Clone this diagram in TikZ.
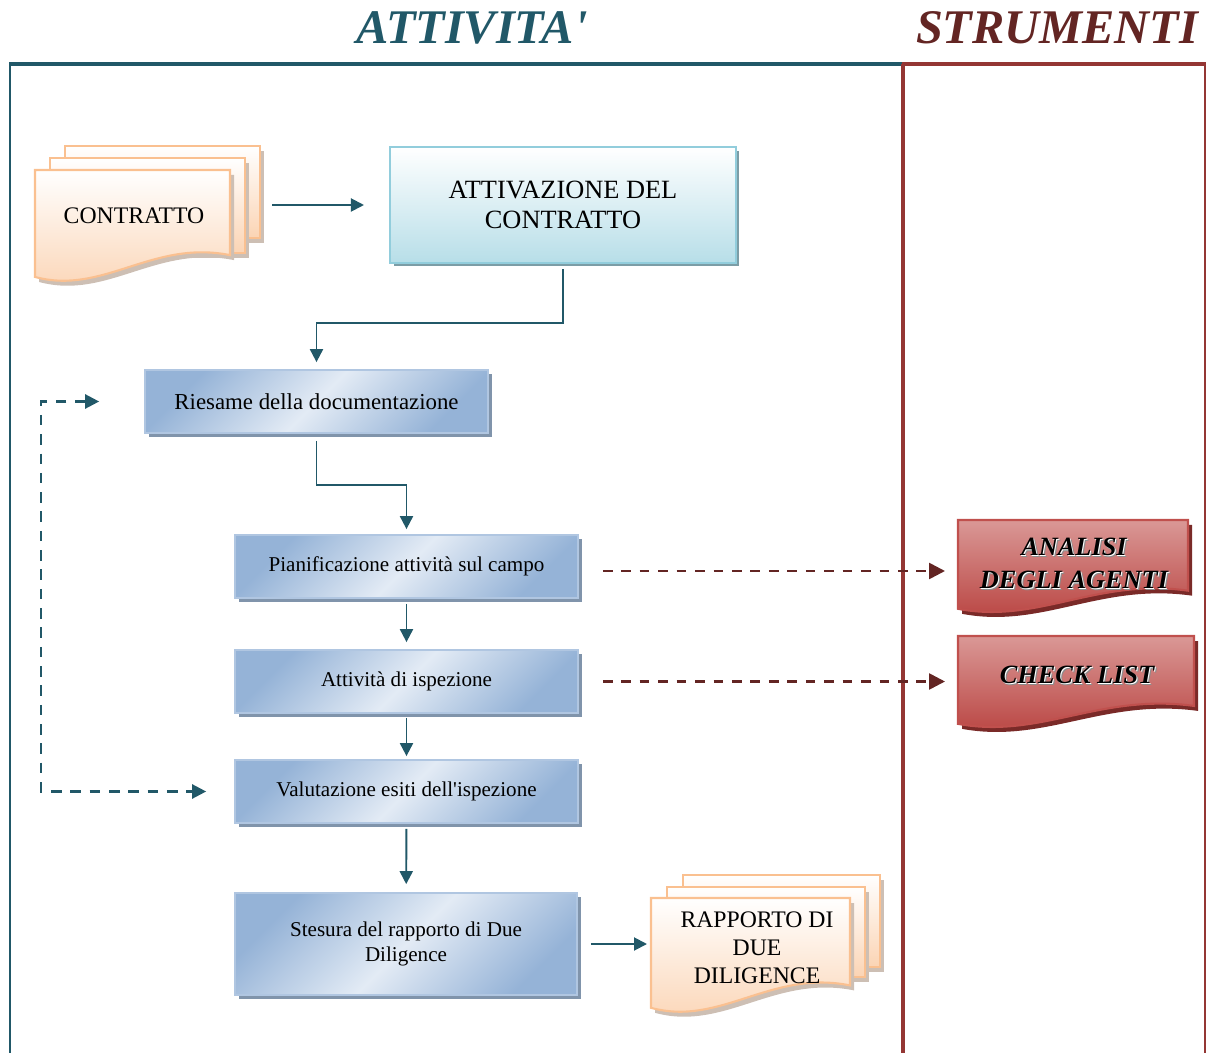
\documentclass[tikz,border=0pt]{standalone}
\usepackage{fontspec}
\setmainfont{Liberation Serif}
\usepackage{tikz}
\usetikzlibrary{arrows.meta,shadows}

\definecolor{attteal}{HTML}{215868}
\definecolor{strred}{HTML}{632523}
\definecolor{framered}{HTML}{943634}
\definecolor{bluedark}{HTML}{95B3D7}
\definecolor{bluelight}{HTML}{E3EBF5}
\definecolor{blueline}{HTML}{B0C6E1}
\definecolor{blueshadow}{HTML}{8094AB}
\definecolor{cyanlight}{HTML}{B7DEE8}
\definecolor{cyanline}{HTML}{92CDDC}
\definecolor{cyanshadow}{HTML}{7C9DA6}
\definecolor{peach}{HTML}{FBD4B4}
\definecolor{peachline}{HTML}{FAC090}
\definecolor{peachshadow}{HTML}{CDBFB4}
\definecolor{redtop}{HTML}{DA9896}
\definecolor{redbottom}{HTML}{B8413E}
\definecolor{redline}{HTML}{C0504D}
\definecolor{redshadow}{HTML}{7A2A28}

% page with wavy bottom: style, x, y, w, h
\newcommand{\wavepage}[5]{%
  \path[#1] (#2,#3) -- ({#2+#4},#3) -- ({#2+#4},{#3+0.76*#5})
    .. controls ({#2+0.6*#4},{#3+0.62*#5}) and ({#2+0.35*#4},{#3+1.12*#5})
    .. (#2,{#3+0.955*#5}) -- cycle;}

\tikzset{
  title/.style={font=\fontsize{27.5}{31}\selectfont\bfseries\itshape},
  actbox/.style={draw=blueline, line width=1pt, left color=bluedark, right color=bluedark,
    middle color=bluelight, shading angle=45, align=center,
    drop shadow={shadow xshift=0.08cm, shadow yshift=-0.08cm, fill=blueshadow, opacity=1},
    font=\fontsize{12}{14.7}\selectfont},
  startbox/.style={draw=cyanline, line width=1.2pt, top color=white, bottom color=cyanlight,
    align=center, font=\fontsize{15}{17.5}\selectfont,
    drop shadow={shadow xshift=0.07cm, shadow yshift=-0.07cm, fill=cyanshadow, opacity=1}},
  docpage/.style={draw=peachline, line width=1.2pt, top color=white, bottom color=peach},
  toolpage/.style={draw=redline, line width=1.2pt, top color=redtop, bottom color=redbottom},
  doctext/.style={align=center, font=\fontsize{13.5}{16}\selectfont},
  tooltext/.style={align=center, font=\fontsize{15}{18.7}\selectfont\bfseries\itshape},
  flow/.style={attteal, line width=1.1pt, -{Triangle[length=0.26cm, width=0.26cm]}},
  loopflow/.style={attteal, line width=1.4pt, dash pattern=on 6pt off 5pt,
    {Triangle[length=0.28cm, width=0.28cm]}-{Triangle[length=0.28cm, width=0.28cm]}},
  toolflow/.style={strred, line width=1.5pt, dash pattern=on 5.5pt off 5pt,
    -{Triangle[length=0.32cm, width=0.32cm]}}
}

\begin{document}
\begin{tikzpicture}[x=0.02cm, y=-0.02cm]
\useasboundingbox (0,0) rectangle (1206,1053);

%column titles and frame
\node[title, text=attteal, anchor=base] (attivita) at (472,44) {ATTIVITA\textquotesingle};
\node[title, text=strred, anchor=base] (strumenti) at (1057,44) {STRUMENTI};
\draw[attteal, line width=1.7pt] (10,1053) -- (10,64);
\draw[attteal, line width=2.3pt] (9,64) -- (902,64);
\draw[framered, line width=2.3pt] (902,64) -- (1206,64);
\draw[framered, line width=2.2pt] (903,64) -- (903,1053);
\draw[framered, line width=0.7pt] (1205,64) -- (1205,1053);

%contract documents
\fill[peachshadow] (69,151) rectangle ++(195,92);
\path[docpage] (65,146) rectangle ++(195,92);
\fill[peachshadow] (54,163) rectangle ++(195,95);
\path[docpage] (50,158) rectangle ++(195,95);
\wavepage{fill=peachshadow, shift={(4,5)}}{35}{170}{195}{112}
\wavepage{docpage}{35}{170}{195}{112}
\node[doctext] (contratto) at (134,216) {CONTRATTO};
\coordinate (contrattoout) at (272,205);

%activities
\node[startbox, minimum width=6.92cm, minimum height=2.32cm] (attivazione) at (563,205)
  {ATTIVAZIONE DEL\\CONTRATTO};
\node[actbox, minimum width=6.86cm, minimum height=1.26cm, font=\fontsize{13}{15}\selectfont]
  (riesame) at (316.5,401.5) {Riesame della documentazione};
\node[actbox, minimum width=6.86cm, minimum height=1.26cm] (pianif) at (406.5,566.5)
  {Pianificazione attività sul campo};
\node[actbox, minimum width=6.86cm, minimum height=1.26cm] (ispezione) at (406.5,681.5)
  {Attività di ispezione};
\node[actbox, minimum width=6.86cm, minimum height=1.26cm] (valutazione) at (406.5,791.5)
  {Valutazione esiti dell\textquotesingle ispezione};
\node[actbox, minimum width=6.84cm, minimum height=2.04cm] (stesura) at (406,944)
  {Stesura del rapporto di Due\\Diligence};

%report documents
\fill[peachshadow] (687,880) rectangle ++(197,92);
\path[docpage] (683,875) rectangle ++(197,92);
\fill[peachshadow] (671,892) rectangle ++(198,90);
\path[docpage] (667,887) rectangle ++(198,90);
\wavepage{fill=peachshadow, shift={(4,5)}}{651}{898}{199}{115}
\wavepage{docpage}{651}{898}{199}{115}
\node[doctext] (rapporto) at (757,948) {RAPPORTO DI\\DUE\\DILIGENCE};
\coordinate (rapportoin) at (647,944);

%tools
\wavepage{fill=redshadow, shift={(4,5)}}{958}{520}{230}{93}
\wavepage{toolpage}{958}{520}{230}{93}
\wavepage{fill=redshadow, shift={(4,5)}}{958}{636}{236}{92}
\wavepage{toolpage}{958}{636}{236}{92}
\node[tooltext, text=black!45] (analisishadow) at (1076,565) {ANALISI\\DEGLI AGENTI};
\node[tooltext, text=white] (analisiwhite) at (1075,564) {ANALISI\\DEGLI AGENTI};
\node[tooltext, text=black] (analisi) at (1074,563) {ANALISI\\DEGLI AGENTI};
\node[tooltext, text=black!45] (checkshadow) at (1079,677) {CHECK LIST};
\node[tooltext, text=white] (checkwhite) at (1078,676) {CHECK LIST};
\node[tooltext, text=black] (checklist) at (1077,675) {CHECK LIST};
\coordinate (analisiin) at (945,571);
\coordinate (checkin) at (945,681.5);

%connectors
\draw[flow, shorten >=0.5cm] (contrattoout) -- (attivazione);
\draw[flow, shorten <=0.1cm, shorten >=0.14cm] (attivazione.south) -- ++(0,59) -| (riesame.north);
\draw[flow, shorten <=0.14cm, shorten >=0.1cm] (riesame.south) -- ++(0,51) -| (pianif.north);
\draw[flow, shorten <=0.1cm, shorten >=0.14cm] (pianif) -- (ispezione);
\draw[flow, shorten <=0.08cm, shorten >=0.06cm] (ispezione) -- (valutazione);
\draw[flow, shorten <=0.1cm, shorten >=0.16cm] (valutazione) -- (stesura);
\draw[flow, shorten <=0.26cm] (stesura.east) -- (rapportoin);
\draw[loopflow, shorten <=0.9cm, shorten >=0.56cm] (riesame.west) -- ++(-103,0) |- (valutazione.west);
\draw[toolflow, shorten <=0.48cm] (pianif.east |- analisiin) -- (analisiin);
\draw[toolflow, shorten <=0.48cm] (ispezione.east) -- (checkin);
\end{tikzpicture}
\end{document}
